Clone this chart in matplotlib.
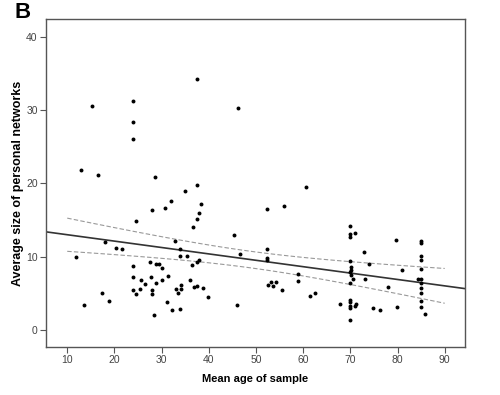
import numpy as np
import matplotlib
matplotlib.use("Agg")
import matplotlib.pyplot as plt

# mean age of sample vs. average network size
age = [12.9, 15.2, 16.5, 23.9, 23.9, 23.9, 28.6, 34.9, 37.4, 37.4,
       46.2, 60.5, 31.9, 27.9, 30.7, 24.5, 18.0, 20.3, 21.6, 32.9,
       33.9, 11.9, 33.9, 35.3, 23.9, 27.5, 28.8, 29.4, 30.0, 23.9,
       27.7, 31.4, 25.6, 26.5, 28.8, 30.0, 36.0, 23.9, 24.5, 25.5,
       27.9, 27.9, 33.0, 33.4, 34.2, 34.2, 17.35, 18.9, 13.6, 31.2,
       32.3, 33.9, 28.4, 36.6, 37.5, 37.9, 38.3, 36.5, 37.5, 38.0,
       36.8, 37.5, 38.7, 39.9, 45.4, 46.6, 45.9, 52.4, 55.9, 52.4,
       52.4, 52.4, 52.6, 53.2, 53.6, 54.2, 55.5, 59.0, 59.0, 61.4,
       62.5, 70.0, 70.0, 70.0, 71.0, 72.9, 70.0, 73.9, 70.2, 70.1,
       70.0, 70.1, 70.5, 73.2, 70.0, 78.0, 79.6, 80.9, 85.0, 85.0,
       85.0, 85.0, 85.0, 84.3, 85.0, 85.0, 85.0, 85.0, 85.0, 85.0,
       85.9, 67.9, 70.0, 70.0, 70.0, 70.0, 71.0, 71.2, 74.9, 76.2,
       79.8, 70.0]
size = [21.8, 30.6, 21.1, 31.2, 28.3, 26.1, 20.9, 19.0, 19.8, 34.2,
        30.3, 19.5, 17.6, 16.4, 16.7, 14.9, 12.0, 11.2, 11.0, 12.2,
        11.1, 10.0, 10.1, 10.1, 8.8, 9.3, 9.0, 9.0, 8.4, 7.2,
        7.2, 7.4, 6.8, 6.3, 6.4, 6.8, 6.8, 5.5, 4.9, 5.6,
        5.4, 4.9, 5.6, 5.1, 6.1, 5.6, 5.1, 4.0, 3.4, 3.9,
        2.8, 2.9, 2.1, 14.0, 15.2, 15.9, 17.2, 8.9, 9.3, 9.5,
        5.9, 6.0, 5.7, 4.5, 12.9, 10.4, 3.4, 16.5, 16.95, 11.1,
        9.8, 9.5, 6.1, 6.6, 6.0, 6.5, 5.5, 7.6, 6.7, 4.6,
        5.0, 14.2, 13.1, 12.7, 13.3, 10.6, 9.4, 9.0, 8.6, 8.2,
        7.9, 7.5, 7.0, 6.9, 6.4, 5.9, 12.3, 8.2, 12.1, 11.9,
        10.15, 9.5, 8.3, 6.9, 6.9, 6.4, 5.7, 5.0, 4.0, 3.1,
        2.2, 3.6, 4.1, 3.8, 3.3, 3.0, 3.3, 3.5, 3.0, 2.8,
        3.2, 1.4]

xticks = [10, 20, 30, 40, 50, 60, 70, 80, 90]
yticks = [0, 10, 20, 30, 40]

plt.rcParams['font.family'] = ['Liberation Sans', 'DejaVu Sans']

x = np.array(age)
y = np.array(size)
n = len(x)

# linear fit with 95% confidence band for the mean
slope, icept = np.polyfit(x, y, 1)
resid = y - (icept + slope * x)
s_err = np.sqrt(np.sum(resid ** 2) / (n - 2))
sxx = np.sum((x - x.mean()) ** 2)
t_val = 1.98

fig = plt.figure(figsize=(5.0, 3.95), dpi=100)
ax = fig.add_axes([0.092, 0.1215, 0.838, 0.8305])

xlim = (5.5, 94.3)
ax.set_xlim(*xlim)
ax.set_ylim(-2.3, 42.4)

xl = np.linspace(xlim[0], xlim[1], 50)
ax.plot(xl, icept + slope * xl, color='#333333', lw=1.2, zorder=2)

xb = np.linspace(10, 90, 100)
half = t_val * s_err * np.sqrt(1.0 / n + (xb - x.mean()) ** 2 / sxx)
fitb = icept + slope * xb
for band in (fitb + half, fitb - half):
    ax.plot(xb, band, color='#999999', lw=0.8, ls=(0, (4, 2)), zorder=2)

ax.scatter(x, y, s=8, color='black', linewidths=0, zorder=3)

for sp in ax.spines.values():
    sp.set_color('#555555')
    sp.set_linewidth(1.0)

ax.set_xticks(xticks)
ax.set_yticks(yticks)
ax.tick_params(axis='both', direction='out', length=4, width=0.8,
               color='#555555', labelcolor='#444444', labelsize=7.5, pad=2)

ax.set_xlabel('Mean age of sample', fontsize=8, fontweight='bold', labelpad=6)
ax.set_ylabel('Average size of personal networks', fontsize=9,
              fontweight='bold', labelpad=1.5)

fig.text(0.03, 0.995, 'B', fontsize=16, fontweight='bold', va='top', ha='left')

fig.savefig('out.png', dpi=100)
